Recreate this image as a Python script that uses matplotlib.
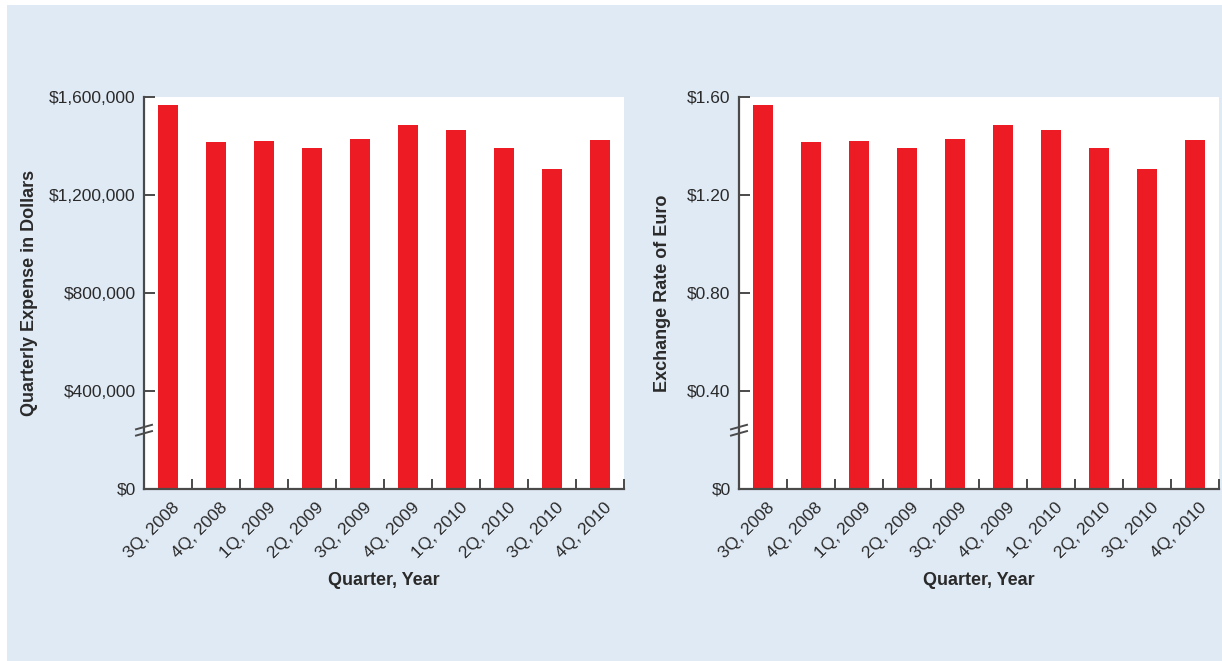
import matplotlib
matplotlib.use("Agg")
import matplotlib.pyplot as plt
import matplotlib.patches as mpatches
import matplotlib.transforms as mtransforms

plt.rcParams['font.family'] = ['Liberation Sans', 'DejaVu Sans']

quarters = ["3Q, 2008", "4Q, 2008", "1Q, 2009", "2Q, 2009", "3Q, 2009",
            "4Q, 2009", "1Q, 2010", "2Q, 2010", "3Q, 2010", "4Q, 2010"]
exchange_rate = [1.567, 1.416, 1.420, 1.392, 1.429, 1.486, 1.465, 1.392, 1.306, 1.424]
expense = [1567000, 1416000, 1420000, 1392000, 1429000, 1486000, 1465000, 1392000, 1306000, 1424000]

expense_ticks = [0, 400000, 800000, 1200000, 1600000]
expense_ticklabels = ["$0", "$400,000", "$800,000", "$1,200,000", "$1,600,000"]
rate_ticks = [0, 0.40, 0.80, 1.20, 1.60]
rate_ticklabels = ["$0", "$0.40", "$0.80", "$1.20", "$1.60"]

BG = "#e0eaf5"
RED = "#ed1c24"
AXC = "#4a4a4a"
TXT = "#2a2a2a"

W, H = 1222, 661
fig = plt.figure(figsize=(W / 100, H / 100), dpi=100)
fig.patch.set_facecolor("white")
fig.patches.append(mpatches.Rectangle((7 / W, 0), 1 - 7 / W, 1 - 5 / H,
                                      transform=fig.transFigure, facecolor=BG,
                                      edgecolor="none", zorder=-10))


def panel(left_px, values, ticks, ticklabels, ylabel, ymax, break_val):
    ax = fig.add_axes([left_px / W, (H - 489) / H, 480 / W, 392 / H])
    ax.set_facecolor("white")
    x = list(range(len(values)))
    ax.bar(x, values, width=0.4, color=RED, zorder=2)
    ax.set_xlim(-0.5, len(values) - 0.5)
    ax.set_ylim(0, ymax)
    for s in ["top", "right"]:
        ax.spines[s].set_visible(False)
    for s in ["left", "bottom"]:
        ax.spines[s].set_color(AXC)
        ax.spines[s].set_linewidth(1.6)
    ax.set_yticks(ticks)
    ax.set_yticklabels(ticklabels)
    ax.tick_params(axis="y", direction="in", length=8, width=1.4, color=AXC,
                   labelsize=12.5, labelcolor=TXT, pad=6)
    ax.set_xticks([i + 0.5 for i in range(len(values))])
    ax.set_xticks(x, minor=True)
    ax.set_xticklabels([])
    ax.set_xticklabels(quarters, minor=True, rotation=45, ha="right", va="top",
                       rotation_mode="anchor")
    ax.tick_params(axis="x", which="major", direction="in", length=7, width=1.4, color=AXC)
    ax.tick_params(axis="x", which="minor", length=0, labelsize=12.5, labelcolor=TXT, pad=8)
    for lab in ax.get_xticklabels(minor=True):
        lab.set_transform(lab.get_transform() + mtransforms.ScaledTranslation(4 / 100, 0, fig.dpi_scale_trans))
    ax.set_ylabel(ylabel, fontsize=13, fontweight="bold", color=TXT)
    ax.set_xlabel("Quarter, Year", fontsize=13, fontweight="bold", color=TXT)
    ax.xaxis.set_label_coords(0.5, -0.212)
    # axis break marks
    tr = mtransforms.blended_transform_factory(ax.transAxes, ax.transData)
    dx = 8 / 480
    dy = 4.5 / 392 * ymax
    for yc in (break_val - 0.008 * ymax, break_val + 0.008 * ymax):
        ax.plot([-dx, dx], [yc - dy / 2, yc + dy / 2], transform=tr,
                color=AXC, lw=1.4, clip_on=False, zorder=5)
    return ax


ax1 = panel(144, expense, expense_ticks, expense_ticklabels,
            "Quarterly Expense in Dollars", 1600000, 240000)
ax1.yaxis.set_label_coords(-0.22, 0.5)
ax2 = panel(739, exchange_rate, rate_ticks, rate_ticklabels,
            "Exchange Rate of Euro", 1.60, 0.24)
ax2.yaxis.set_label_coords(-0.1425, 0.5)

fig.savefig("out.png", dpi=100, facecolor=fig.get_facecolor())
